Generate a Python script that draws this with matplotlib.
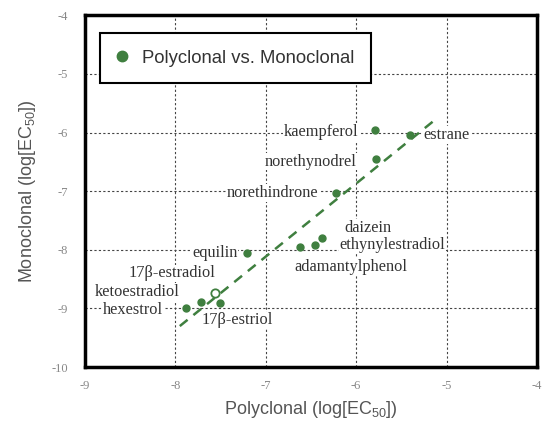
# Polyclonal vs monoclonal log(EC50) scatter with labelled compounds
import matplotlib
matplotlib.use("Agg")
from matplotlib import pyplot as plt

# data
compounds = ["kaempferol", "estrane", "norethynodrel", "norethindrone", "daizein",
             "ethynylestradiol", "adamantylphenol", "equilin", "17β-estradiol",
             "ketoestradiol", "hexestrol", "17β-estriol"]
poly = [-5.79, -5.40, -5.78, -6.22, -6.38, -6.46, -6.62, -7.21, -7.56, -7.72, -7.88, -7.51]
mono = [-5.96, -6.04, -6.46, -7.03, -7.80, -7.92, -7.95, -8.06, -8.74, -8.89, -8.99, -8.91]
open_marker = [False] * 8 + [True] + [False] * 3

# regression line end points
fit_x = [-7.95, -5.10]
fit_y = [-9.30, -5.75]

# label placement (data coords) and alignment
label_pos = [(-5.98, -5.99, "right"), (-5.26, -6.04, "left"), (-5.99, -6.50, "right"),
             (-6.42, -7.03, "right"), (-5.87, -7.63, "center"), (-6.18, -7.92, "left"),
             (-6.68, -8.29, "left"), (-7.31, -8.05, "right"), (-8.52, -8.40, "left"),
             (-8.89, -8.72, "left"), (-8.80, -9.03, "left"), (-7.71, -9.20, "left")]

green = "#3f7f3f"

plt.rcParams["axes.unicode_minus"] = False
plt.rcParams["mathtext.fontset"] = "custom"
plt.rcParams["mathtext.rm"] = "Liberation Sans"
plt.rcParams["mathtext.default"] = "rm"

fig = plt.figure(figsize=(5.44, 4.22), dpi=100)
ax = fig.add_axes([0.156, 0.130, 0.831, 0.834])

ax.set_xlim(-9, -4)
ax.set_ylim(-10, -4)
ax.set_xticks(range(-9, -3))
ax.set_yticks(range(-10, -3))
ax.set_axisbelow(True)
ax.grid(True, color="#444444", linestyle=(0, (2, 2)), linewidth=0.8)

filled_x = [x for x, o in zip(poly, open_marker) if not o]
filled_y = [y for y, o in zip(mono, open_marker) if not o]
open_x = [x for x, o in zip(poly, open_marker) if o]
open_y = [y for y, o in zip(mono, open_marker) if o]

ax.plot(fit_x, fit_y, color=green, linestyle=(0, (4, 3)), linewidth=1.8, zorder=2)
ax.plot(filled_x, filled_y, "o", color=green, markersize=5, zorder=3,
        label="Polyclonal vs. Monoclonal")
ax.plot(open_x, open_y, "o", markerfacecolor="white", markeredgecolor=green,
        markeredgewidth=1.3, markersize=6, zorder=3)

for name, (tx, ty, ha) in zip(compounds, label_pos):
    ax.text(tx, ty, name, ha=ha, va="center", fontsize=11.8, color="#333333",
            family="Liberation Serif", zorder=1.5,
            bbox=dict(facecolor="white", edgecolor="none", pad=0.5))

for side in ax.spines.values():
    side.set_linewidth(2.5)
ax.tick_params(length=0, labelsize=9, labelcolor="#888888")
ax.tick_params(axis="x", pad=9)
ax.tick_params(axis="y", pad=12)
for lab in ax.get_xticklabels() + ax.get_yticklabels():
    lab.set_family("Liberation Serif")

ax.set_xlabel("Polyclonal (log[EC$_{50}$])", fontsize=13, color="#555555",
              family="Liberation Sans", labelpad=5)
ax.set_ylabel("Monoclonal (log[EC$_{50}$])", fontsize=13, color="#555555",
              family="Liberation Sans", labelpad=10)

leg = ax.legend(loc="upper left", bbox_to_anchor=(0.033, 0.949), borderaxespad=0,
                fancybox=False, edgecolor="black", framealpha=1, markerscale=1.5,
                handlelength=0.6, handletextpad=0.8, borderpad=0.9,
                prop={"family": "Liberation Sans", "size": 13.3})
leg.get_frame().set_linewidth(1.5)
for t in leg.get_texts():
    t.set_color("#333333")

fig.savefig("out.png", dpi=100)
